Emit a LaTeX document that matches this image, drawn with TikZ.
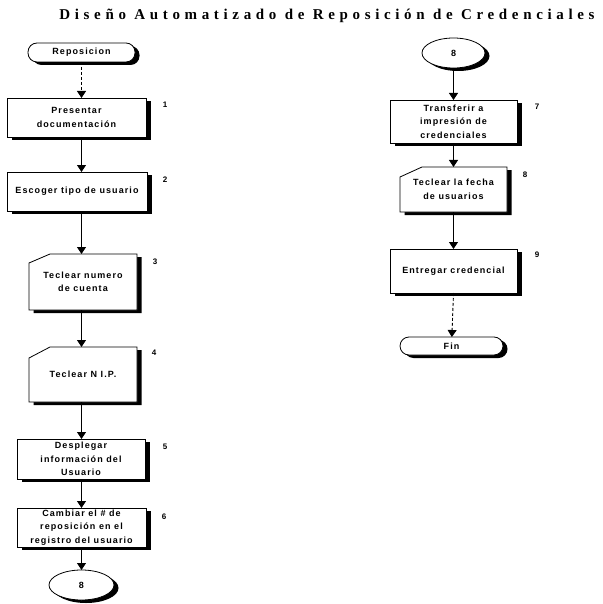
\documentclass[tikz,border=0pt]{standalone}
\usepackage{fontspec}
\setmainfont{Liberation Serif}
\newfontfamily\cajafont[LetterSpace=12]{Liberation Sans}
\newfontfamily\titulofont[LetterSpace=31]{Liberation Serif}
\usepackage{tikz}
\usetikzlibrary{shapes.geometric,shadows,arrows.meta}
\pgfdeclarelayer{fondo}
\pgfsetlayers{fondo,main}

\tikzset{
  sombra/.style={drop shadow={shadow xshift=4.5pt,shadow yshift=-3pt,fill=black,opacity=1}},
  texto/.style={font=\cajafont\bfseries\fontsize{9}{13.5}\selectfont,align=center,inner sep=0pt,outer sep=0pt},
  proceso/.style 2 args={texto,rectangle,draw,fill=white,line width=0.8pt,sombra,minimum width=#1,minimum height=#2},
  tarjeta/.style 2 args={texto,rectangle,minimum width=#1,minimum height=#2},
  contorno/.style={draw,fill=white,line width=0.8pt,sombra},
  terminal/.style={texto,rectangle,rounded corners=9pt,draw,fill=white,line width=0.8pt,sombra,minimum height=19pt},
  conector/.style={texto,ellipse,draw,fill=white,line width=0.8pt,sombra,minimum width=65pt,minimum height=30pt},
  flecha/.style={-{Triangle[width=9pt,length=7pt]},line width=0.9pt},
  num/.style={font=\cajafont\bfseries\fontsize{8}{9}\selectfont,inner sep=0pt},
  titulo/.style={font=\titulofont\bfseries\fontsize{15}{17}\selectfont,inner sep=0pt}
}

\begin{document}
\begin{tikzpicture}[x=1pt,y=-1pt]
    \useasboundingbox (0,0) rectangle (602,604);
    \node[titulo] (tit) at (327,16) {Diseño Automatizado de Reposición de Credenciales};

    % columna izquierda
    \node[terminal,minimum width=107pt] (rep) at (81.5,52.5) {Reposicion};
    \node[proceso={139pt}{39pt}] (b1) at (76.5,117.5) {Presentar\\documentación};
    \node[proceso={140pt}{39pt}] (b2) at (77,191.5) {Escoger tipo de usuario};
    \node[tarjeta={108pt}{56pt}] (b3) at (83,282) {Teclear numero\\de cuenta};
    \node[tarjeta={108pt}{55pt}] (b4) at (83,374.5) {Teclear N I.P.};
    \node[proceso={128pt}{40pt}] (b5) at (81,459) {Desplegar\\información del\\Usuario};
    \node[proceso={129pt}{39pt}] (b6) at (81.5,527.5) {Cambiar el \# de\\reposición en el\\registro del usuario};
    \node[conector] (c8a) at (81.5,585) {8};

    % columna derecha
    \node[conector,minimum width=63pt] (c8b) at (453.5,53) {8};
    \node[proceso={127pt}{43pt}] (b7) at (453.5,121.5) {Transferir a\\impresión de\\credenciales};
    \node[tarjeta={107pt}{45pt}] (b8) at (453.5,189.5) {Teclear la fecha\\de usuarios};
    \node[proceso={127pt}{44pt}] (b9) at (453.5,271) {Entregar credencial};
    \node[terminal,minimum width=103pt,minimum height=18pt] (fin) at (451.5,346) {Fin};

    \begin{pgfonlayer}{fondo}
    \draw[contorno] ([yshift=-9pt]b3.north west) -- ([xshift=21pt]b3.north west) -- (b3.north east) -- (b3.south east) -- (b3.south west) -- cycle;
    \draw[contorno] ([yshift=-11pt]b4.north west) -- ([xshift=21pt]b4.north west) -- (b4.north east) -- (b4.south east) -- (b4.south west) -- cycle;
    \draw[contorno] ([yshift=-10pt]b8.north west) -- ([xshift=22pt]b8.north west) -- (b8.north east) -- (b8.south east) -- (b8.south west) -- cycle;
    \end{pgfonlayer}

    \node[num] (n1) at (165,105) {1};
    \node[num] (n2) at (165,180) {2};
    \node[num] (n3) at (155,262) {3};
    \node[num] (n4) at (154,353) {4};
    \node[num] (n5) at (165,447) {5};
    \node[num] (n6) at (164,517) {6};
    \node[num] (n7) at (537,107) {7};
    \node[num] (n8) at (525,175) {8};
    \node[num] (n9) at (537,255) {9};

    \draw[flecha,densely dashed] (rep) -- (rep |- b1.north);
    \draw[flecha] (rep |- b1.south) -- (rep |- b2.north);
    \draw[flecha] (rep |- b2.south) -- (rep |- b3.north);
    \draw[flecha] (rep |- b3.south) -- (rep |- b4.north);
    \draw[flecha] (rep |- b4.south) -- (rep |- b5.north);
    \draw[flecha] (rep |- b5.south) -- (rep |- b6.north);
    \draw[flecha] (rep |- b6.south) -- (c8a);

    \draw[flecha] (c8b) -- (c8b |- b7.north);
    \draw[flecha] (c8b |- b7.south) -- (c8b |- b8.north);
    \draw[flecha] (c8b |- b8.south) -- (c8b |- b9.north);
    \draw[flecha,densely dashed] (c8b |- b9.south) -- (fin);
\end{tikzpicture}
\end{document}
